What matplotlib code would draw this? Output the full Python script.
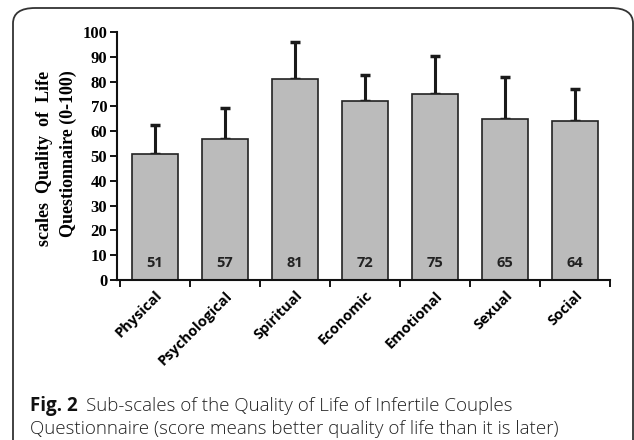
import matplotlib
matplotlib.use('Agg')
import matplotlib.pyplot as plt
from matplotlib.patches import FancyBboxPatch

# data
categories = ['Physical', 'Psychological', 'Spiritual', 'Economic', 'Emotional', 'Sexual', 'Social']
means = [51, 57, 81, 72, 75, 65, 64]
sds = [11.5, 12.5, 15, 10.5, 15.5, 17, 13]
value_labels = ['51', '57', '81', '72', '75', '65', '64']
yticks = [0, 10, 20, 30, 40, 50, 60, 70, 80, 90, 100]

W, H = 634, 440
fig = plt.figure(figsize=(W / 100, H / 100), dpi=100)
fig.patch.set_facecolor('white')

# rounded frame around figure + caption
frame = FancyBboxPatch((13 / W, -0.1), 620 / W, (H - 8) / H + 0.1,
                       boxstyle="round,pad=0,rounding_size=0.035",
                       transform=fig.transFigure, facecolor='none',
                       edgecolor='#333333', linewidth=1.3)
fig.patches.append(frame)

# axes: x 117..610 px, y 32..280 px (top-down)
ax = fig.add_axes([117 / W, 1 - 280 / H, 493 / W, 248 / H])
x = list(range(len(categories)))
ax.bar(x, means, width=0.66, color='#BBBBBB', edgecolor='#222222', linewidth=1.2, zorder=2)
ax.errorbar(x, means, yerr=[[0] * len(sds), sds], fmt='none', ecolor='#1a1a1a',
            elinewidth=2.2, capsize=3.5, capthick=2.5, zorder=1)

for xi, lab in zip(x, value_labels):
    ax.text(xi, 7, lab, ha='center', va='center', fontsize=10.5, fontweight='bold',
            family='Open Sans', color='#222222')

ax.set_xlim(-0.543, len(categories) - 0.5)
ax.set_ylim(0, 100)
ax.set_yticks(yticks)
ax.set_yticklabels([str(t) for t in yticks], family='Liberation Serif',
                   fontweight='bold', fontsize=12)
ax.set_xticks([i - 0.5 for i in range(len(categories) + 1)])
ax.set_xticklabels([])
ax.set_xticks(x, minor=True)
ax.set_xticklabels(categories, minor=True, rotation=45, ha='right', rotation_mode='anchor',
                   family='Open Sans', fontweight='bold', fontsize=10.5)
ax.tick_params(axis='x', which='minor', length=0, pad=6)
ax.tick_params(axis='x', which='major', length=5, width=1.3, direction='out')
ax.tick_params(axis='y', length=5, width=1.3, direction='out', pad=2)
for s in ['top', 'right']:
    ax.spines[s].set_visible(False)
for s in ['left', 'bottom']:
    ax.spines[s].set_linewidth(1.5)
    ax.spines[s].set_color('#111111')

# y label two lines
fig.text(45 / W, 1 - 158 / H, 'scales  Quality  of  Life', rotation=90, ha='center', va='center',
         family='Liberation Serif', fontweight='bold', fontsize=13)
fig.text(68 / W, 1 - 154 / H, 'Questionnaire (0-100)', rotation=90, ha='center', va='center',
         family='Liberation Serif', fontweight='bold', fontsize=13)

# caption
fig.text(30 / W, 1 - 406 / H, 'Fig. 2', ha='left', va='center', fontsize=13.5,
         family='Open Sans', fontweight='bold', color='#111111')
fig.text(86 / W, 1 - 406 / H, 'Sub-scales of the Quality of Life of Infertile Couples',
         ha='left', va='center', fontsize=13.5, family='Open Sans', fontweight='light',
         color='#222222')
fig.text(30 / W, 1 - 429 / H,
         'Questionnaire (score means better quality of life than it is later)',
         ha='left', va='center', fontsize=13.5, family='Open Sans', fontweight='light',
         color='#222222')

fig.savefig('out.png', dpi=100, facecolor='white')
